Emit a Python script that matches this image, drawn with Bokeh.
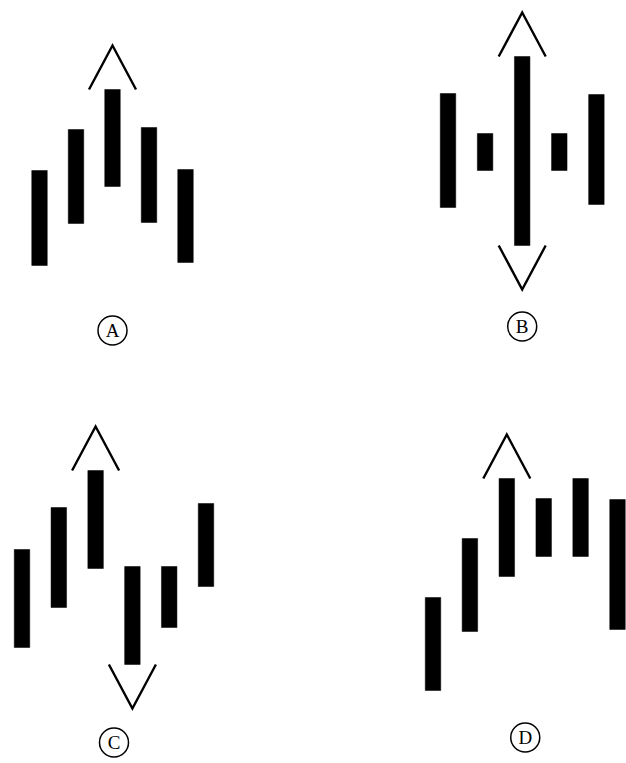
from bokeh.plotting import figure
from bokeh.layouts import gridplot
from bokeh.models import ColumnDataSource
from bokeh.core.properties import value
from bokeh.embed import file_html
from bokeh.resources import INLINE

# ---- data: price bars (high / low) for each pattern ----
A_high = [21.3, 25.4, 29.4, 25.6, 21.4]
A_low = [11.8, 16.0, 19.7, 16.1, 12.1]
A_arrows = [(3, "up")]

B_high = [29.0, 25.0, 32.7, 25.0, 28.9]
B_low = [17.6, 21.3, 13.8, 21.3, 17.9]
B_arrows = [(3, "up"), (3, "down")]

C_high = [21.4, 25.6, 29.3, 19.7, 19.7, 26.0]
C_low = [11.6, 15.6, 19.5, 9.9, 13.6, 17.7]
C_arrows = [(3, "up"), (4, "down")]

D_high = [16.6, 22.5, 28.5, 26.5, 28.5, 26.4]
D_low = [7.3, 13.2, 18.7, 20.7, 20.7, 13.4]
D_arrows = [(3, "up")]

labels = ["A", "B", "C", "D"]

# ---- layout / style ----
UNIT_PX = 10.0        # pixels per price unit
BAR_PX = 15.5         # bar width in pixels
ARROW_H_PX = 44.0     # arrow height in pixels
ARROW_HW_PX = 23.5    # arrow half width in pixels


def make_panel(highs, lows, arrows, label, fig_w, fig_h, first_px, step_px, label_y):
    x0 = 1 - first_px / step_px
    x1 = x0 + fig_w / step_px
    p = figure(width=fig_w, height=fig_h, x_range=(x0, x1), y_range=(0, fig_h / UNIT_PX),
               output_backend="svg", toolbar_location=None, min_border=0,
               x_axis_type=None, y_axis_type=None)
    p.grid.visible = False
    p.outline_line_color = None
    p.background_fill_color = "white"
    p.border_fill_color = "white"

    n = len(highs)
    xs = list(range(1, n + 1))
    src = ColumnDataSource(dict(x=xs, top=highs, bottom=lows))
    p.vbar(x="x", top="top", bottom="bottom", width=BAR_PX / step_px, source=src,
           fill_color="black", line_color="black", line_width=0.5)

    hw = ARROW_HW_PX / step_px
    ah = ARROW_H_PX / UNIT_PX
    axs, ays = [], []
    for idx, d in arrows:
        xc = idx
        if d == "up":
            base = highs[idx - 1]
            tip = base + ah
        else:
            base = lows[idx - 1]
            tip = base - ah
        axs.append([xc - hw, xc, xc + hw])
        ays.append([base, tip, base])
    p.multi_line(xs=axs, ys=ays, line_color="black", line_width=2.4, line_join="miter")

    lx = (n + 1) / 2
    p.scatter(x=[lx], y=[label_y], marker="circle", size=29, fill_color=None,
              line_color="black", line_width=1.5)
    p.text(x=[lx], y=[label_y], text=[label], text_align="center", text_baseline="middle",
           text_font=value("Liberation Serif"), text_font_size="19px", text_color="black")
    return p


pA = make_panel(A_high, A_low, A_arrows, labels[0], 313, 383, 39.0, 36.5, 5.3)
pB = make_panel(B_high, B_low, B_arrows, labels[1], 313, 383, 134.5, 37.1, 5.7)
pC = make_panel(C_high, C_low, C_arrows, labels[2], 313, 380, 21.5, 36.8, 2.1)
pD = make_panel(D_high, D_low, D_arrows, labels[3], 313, 380, 119.5, 36.9, 2.6)

grid = gridplot([[pA, pB], [pC, pD]], toolbar_location=None)

open("out.html", "w").write(file_html(grid, INLINE))
